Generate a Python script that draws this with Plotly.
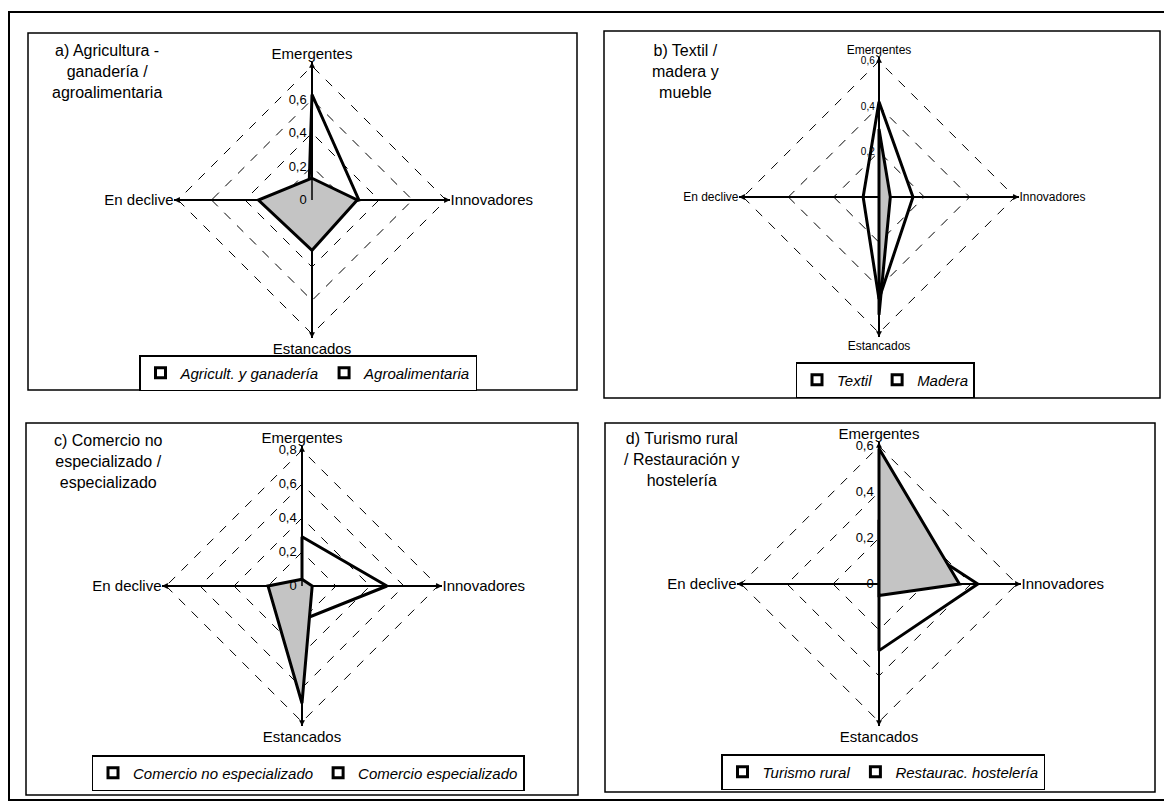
import plotly.graph_objects as go

W, H = 1172, 805
OFF = 8  # page margin of the html body

categorias = ["Emergentes", "Innovadores", "Estancados", "En declive"]

# a) Agricultura-ganadería / agroalimentaria
agric_ganaderia = [0.13, 0.27, 0.30, 0.32]
agroalimentaria = [0.63, 0.28, 0.08, 0.02]
# b) Textil / madera y mueble
textil = [0.30, 0.05, 0.52, 0.0]
madera = [0.42, 0.15, 0.45, 0.07]
# c) Comercio
comercio_no_esp = [0.04, 0.06, 0.69, 0.20]
comercio_esp = [0.29, 0.50, 0.20, 0.0]
# d) Turismo / restauración
turismo_rural = [0.59, 0.35, 0.05, 0.0]
restaurac_hosteleria = [0.28, 0.43, 0.29, 0.0]

ticks_08 = [0, 0.2, 0.4, 0.6, 0.8]
ticks_06 = [0, 0.2, 0.4, 0.6]

FONT = "Liberation Sans, Arial, sans-serif"
GRIS = "#c4c4c4"
EXTRA = 1.03  # spokes run a little past the outer ring


def fx(x):
    return (x - OFF) / W


def fy(y):
    return 1 - (y - OFF) / H


def dom(cx, cy, r):
    return dict(x=[fx(cx - r), fx(cx + r)], y=[fy(cy + r), fy(cy - r)])


def cerrar(v):
    return list(v) + [v[0]]


fig = go.Figure()

paneles = [
    ("polar", "legend", agric_ganaderia, agroalimentaria, "Agricult. y ganadería", "Agroalimentaria"),
    ("polar2", "legend2", textil, madera, "Textil", "Madera"),
    ("polar3", "legend3", comercio_no_esp, comercio_esp, "Comercio no especializado", "Comercio especializado"),
    ("polar4", "legend4", turismo_rural, restaurac_hosteleria, "Turismo rural", "Restaurac. hostelería"),
]

for sub, leg, s1, s2, n1, n2 in paneles:
    fig.add_trace(go.Scatterpolar(
        r=cerrar(s2), theta=cerrar(categorias), subplot=sub, showlegend=False,
        mode="lines", line=dict(color="black", width=3), fill="none"))
    fig.add_trace(go.Scatterpolar(
        r=cerrar(s1), theta=cerrar(categorias), subplot=sub, showlegend=False,
        mode="lines", line=dict(color="black", width=3), fill="toself", fillcolor=GRIS))
    # legend keys: small boxed squares
    for n in (n1, n2):
        fig.add_trace(go.Scatterpolar(
            r=[None], theta=[None], name=n, subplot=sub, legend=leg, mode="markers",
            marker=dict(symbol="square", size=10, color="white", line=dict(color="black", width=3))))


def polar_cfg(cx, cy, r, rmax, tv, tt, fs):
    return dict(
        domain=dom(cx, cy, r), bgcolor="white", gridshape="linear",
        radialaxis=dict(range=[0, rmax * EXTRA], tickvals=tv, ticktext=tt, angle=90, tickangle=90,
                        side="counterclockwise",
                        showline=True, linecolor="black", linewidth=1.5,
                        gridcolor="black", griddash="dash", gridwidth=1,
                        ticks="", tickfont=dict(family=FONT, size=fs - 2, color="black")),
        angularaxis=dict(rotation=90, direction="clockwise", showgrid=True,
                         gridcolor="black", gridwidth=1.5, showline=False, ticks="",
                         tickfont=dict(family=FONT, size=fs, color="black")),
    )


centros = [(312, 200, 138), (879, 197, 140), (302, 586, 140), (879, 584, 142)]

fig.update_layout(
    width=W, height=H, margin=dict(l=0, r=0, t=0, b=0),
    paper_bgcolor="white", separators=",.",
    font=dict(family=FONT, color="black"),
    polar=polar_cfg(*centros[0], 0.8, ticks_08, ["0", "0,2", "0,4", "0,6", ""], 15),
    polar2=polar_cfg(*centros[1], 0.6, ticks_06, ["", "0,2", "0,4", "0,6"], 12),
    polar3=polar_cfg(*centros[2], 0.8, ticks_08, ["0", "0,2", "0,4", "0,6", "0,8"], 15),
    polar4=polar_cfg(*centros[3], 0.6, ticks_06, ["0", "0,2", "0,4", "0,6"], 15),
)

leg_style = dict(orientation="h", xanchor="center", yanchor="middle", bgcolor="white",
                 bordercolor="black", borderwidth=1.5, itemwidth=30,
                 font=dict(family=FONT, size=15, style="italic", color="black"))
fig.update_layout(
    legend=dict(x=fx(308), y=fy(373), **leg_style),
    legend2=dict(x=fx(885), y=fy(380), **leg_style),
    legend3=dict(x=fx(308), y=fy(773), **leg_style),
    legend4=dict(x=fx(883), y=fy(772), **leg_style),
)

# panel frames and outer frame
cajas = [(28, 33, 577, 390), (604, 31, 1160, 398), (26, 423, 578, 795), (605, 423, 1155, 792)]
shapes = [dict(type="rect", xref="paper", yref="paper", x0=fx(9), x1=fx(1166), y0=fy(800), y1=fy(12),
               line=dict(color="black", width=2))]
for x0, y0, x1, y1 in cajas:
    shapes.append(dict(type="rect", xref="paper", yref="paper", x0=fx(x0), x1=fx(x1),
                       y0=fy(y1), y1=fy(y0), line=dict(color="black", width=1.5)))
fig.update_layout(shapes=shapes)

# small arrow heads at the end of each spoke
for cx, cy, r in centros:
    for dx, dy in [(0, -1), (1, 0), (0, 1), (-1, 0)]:
        fig.add_annotation(x=fx(cx + dx * r), y=fy(cy + dy * r), xref="paper", yref="paper",
                           ax=-dx * 6, ay=-dy * 6, showarrow=True, arrowhead=2, arrowsize=0.9,
                           arrowwidth=1.3, arrowcolor="black", text="")

titulos = [
    ("a) Agricultura -<br>ganadería /<br>agroalimentaria", 107, 40),
    ("b) Textil /<br>madera y<br>mueble", 685, 40),
    ("c) Comercio no<br>especializado /<br>especializado", 108, 430),
    ("d) Turismo rural<br>/ Restauración y<br>hostelería", 682, 428),
]
for txt, x, y in titulos:
    fig.add_annotation(text=txt, x=fx(x), y=fy(y), xref="paper", yref="paper",
                       xanchor="center", yanchor="top", align="center", showarrow=False,
                       font=dict(family=FONT, size=16, color="black"))

fig.write_html("out.html")
